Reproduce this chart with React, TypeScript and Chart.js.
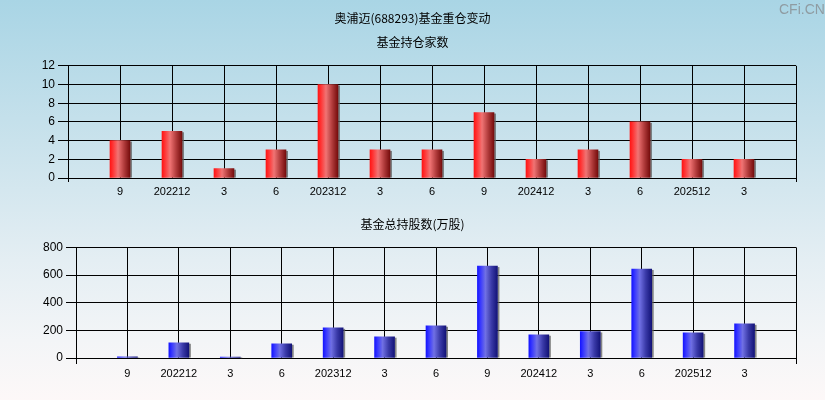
import React, { useEffect, useRef } from "react";
import { Chart, registerables } from "chart.js";

Chart.register(...registerables);

const periods = ["9", "202212", "3", "6", "202312", "3", "6", "9", "202412", "3", "6", "202512", "3"];
const fundCounts = [4, 5, 1, 3, 10, 3, 3, 7, 2, 3, 6, 2, 2];
const fundShares = [8, 110, 6, 103, 218, 154, 233, 665, 168, 192, 644, 182, 247];
const countTicks = { min: 0, max: 12, step: 2 };
const shareTicks = { min: 0, max: 800, step: 200 };

const mainTitle = "奥浦迈(688293)基金重仓变动";
const countTitle = "基金持仓家数";
const shareTitle = "基金总持股数(万股)";
const watermark = "CFi.CN";

const CJK = "'Noto Sans CJK SC', 'Liberation Sans', sans-serif";
const LAT = "'Liberation Sans', Arial, sans-serif";

const labels = ["", ...periods, ""];
const padData = (arr: number[]) => [null, ...arr, null];

function barStylePlugin(stops: [number, string][]) {
  return {
    id: "barStyle",
    beforeDatasetsDraw(chart: any) {
      const ctx = chart.ctx;
      const meta = chart.getDatasetMeta(0);
      meta.data.forEach((el: any) => {
        const { x, y, base, width } = el.getProps(["x", "y", "base", "width"], true);
        if (x == null || isNaN(y) || isNaN(base)) return;
        const h = base - y;
        if (h > 0) {
          ctx.save();
          ctx.fillStyle = "rgba(95,95,95,0.75)";
          ctx.fillRect(x + width / 2, y + 1, 2, h - 1);
          ctx.restore();
        }
        const g = ctx.createLinearGradient(x - width / 2, 0, x + width / 2, 0);
        stops.forEach(([o, c]) => g.addColorStop(o, c));
        el.options = Object.assign({}, el.options, { backgroundColor: g });
      });
    },
  };
}

const redStops: [number, string][] = [
  [0, "#ff1515"],
  [0.15, "#ff3535"],
  [0.4, "#f07474"],
  [0.7, "#b23c3c"],
  [1, "#760c0c"],
];
const blueStops: [number, string][] = [
  [0, "#1515ff"],
  [0.15, "#3838ff"],
  [0.4, "#7070e4"],
  [0.7, "#3a3aa8"],
  [1, "#131378"],
];

function makeConfig(opts: {
  data: number[];
  ticks: { min: number; max: number; step: number };
  title: string;
  titlePad: { top: number; bottom: number };
  subtitle?: string;
  subtitlePad?: { top: number; bottom: number };
  yWidth: number;
  xHeight: number;
  xTickLen: number;
  stops: [number, string][];
}): any {
  const lastIdx = labels.length - 1;
  return {
    type: "bar",
    data: {
      labels,
      datasets: [
        {
          data: padData(opts.data),
          backgroundColor: "#ff0000",
          borderWidth: 0,
          barThickness: 20,
          yAxisID: "y",
        },
      ],
    },
    plugins: [barStylePlugin(opts.stops)],
    options: {
      animation: false,
      responsive: false,
      maintainAspectRatio: false,
      layout: { padding: { left: 0, right: 0, top: 0, bottom: 0 } },
      plugins: {
        legend: { display: false },
        tooltip: { enabled: false },
        title: {
          display: true,
          text: opts.title,
          color: "#000",
          font: { family: CJK, size: 12, weight: "normal" },
          padding: opts.titlePad,
        },
        subtitle: {
          display: !!opts.subtitle,
          text: opts.subtitle || "",
          color: "#000",
          font: { family: CJK, size: 12, weight: "normal" },
          padding: opts.subtitlePad || { top: 0, bottom: 0 },
        },
      },
      scales: {
        x: {
          type: "category",
          offset: false,
          grid: {
            offset: false,
            color: "#000",
            lineWidth: 1,
            drawTicks: true,
            tickLength: opts.xTickLen,
            tickColor: (c: any) => (c.index === 0 || c.index === lastIdx ? "#000" : "rgba(0,0,0,0)"),
          },
          border: { display: true, color: "#000", width: 1 },
          ticks: {
            color: "#000",
            font: { family: LAT, size: 11 },
            padding: 3,
            maxRotation: 0,
            autoSkip: false,
          },
          afterFit: (s: any) => {
            s.height = opts.xHeight;
          },
        },
        y: {
          position: "left",
          min: opts.ticks.min,
          max: opts.ticks.max,
          grid: {
            color: "#000",
            lineWidth: 1,
            drawTicks: true,
            tickLength: 10,
            tickColor: "#000",
          },
          border: { display: true, color: "#000", width: 1 },
          ticks: {
            stepSize: opts.ticks.step,
            color: "#000",
            font: { family: LAT, size: 12 },
            padding: 3,
          },
          afterFit: (s: any) => {
            s.width = opts.yWidth;
          },
        },
        ySpacer: {
          position: "right",
          display: true,
          grid: { display: false, drawOnChartArea: false, drawTicks: false },
          border: { display: false },
          ticks: { display: false },
          afterFit: (s: any) => {
            s.width = 29;
          },
        },
      },
    },
  };
}

export default function App() {
  const topRef = useRef<HTMLCanvasElement | null>(null);
  const botRef = useRef<HTMLCanvasElement | null>(null);

  useEffect(() => {
    if (!topRef.current || !botRef.current) return;
    const c1 = new Chart(
      topRef.current,
      makeConfig({
        data: fundCounts,
        ticks: countTicks,
        title: mainTitle,
        titlePad: { top: 11, bottom: 4 },
        subtitle: countTitle,
        subtitlePad: { top: 6, bottom: 16 },
        yWidth: 68,
        xHeight: 22,
        xTickLen: 4,
        stops: redStops,
      })
    );
    const c2 = new Chart(
      botRef.current,
      makeConfig({
        data: fundShares,
        ticks: shareTicks,
        title: shareTitle,
        titlePad: { top: 17, bottom: 16 },
        yWidth: 76,
        xHeight: 42,
        xTickLen: 6,
        stops: blueStops,
      })
    );
    return () => {
      c1.destroy();
      c2.destroy();
    };
  }, []);

  return (
    <div
      style={{
        position: "fixed",
        left: 0,
        top: 0,
        width: 825,
        height: 400,
        overflow: "hidden",
        background: "linear-gradient(to bottom, #a9d5e5 0%, #c9e2ec 35%, #e4eef3 65%, #f3f5f7 85%, #fdf8f8 100%)",
      }}
    >
      <canvas ref={topRef} width={825} height={200} style={{ position: "absolute", left: 0, top: 0, width: 825, height: 200 }} />
      <canvas ref={botRef} width={825} height={200} style={{ position: "absolute", left: 0, top: 200, width: 825, height: 200 }} />
      <div
        style={{
          position: "absolute",
          left: 779,
          top: 1,
          fontFamily: LAT,
          fontSize: 14,
          color: "#8f9ca2",
          letterSpacing: 0,
        }}
      >
        {watermark}
      </div>
    </div>
  );
}
